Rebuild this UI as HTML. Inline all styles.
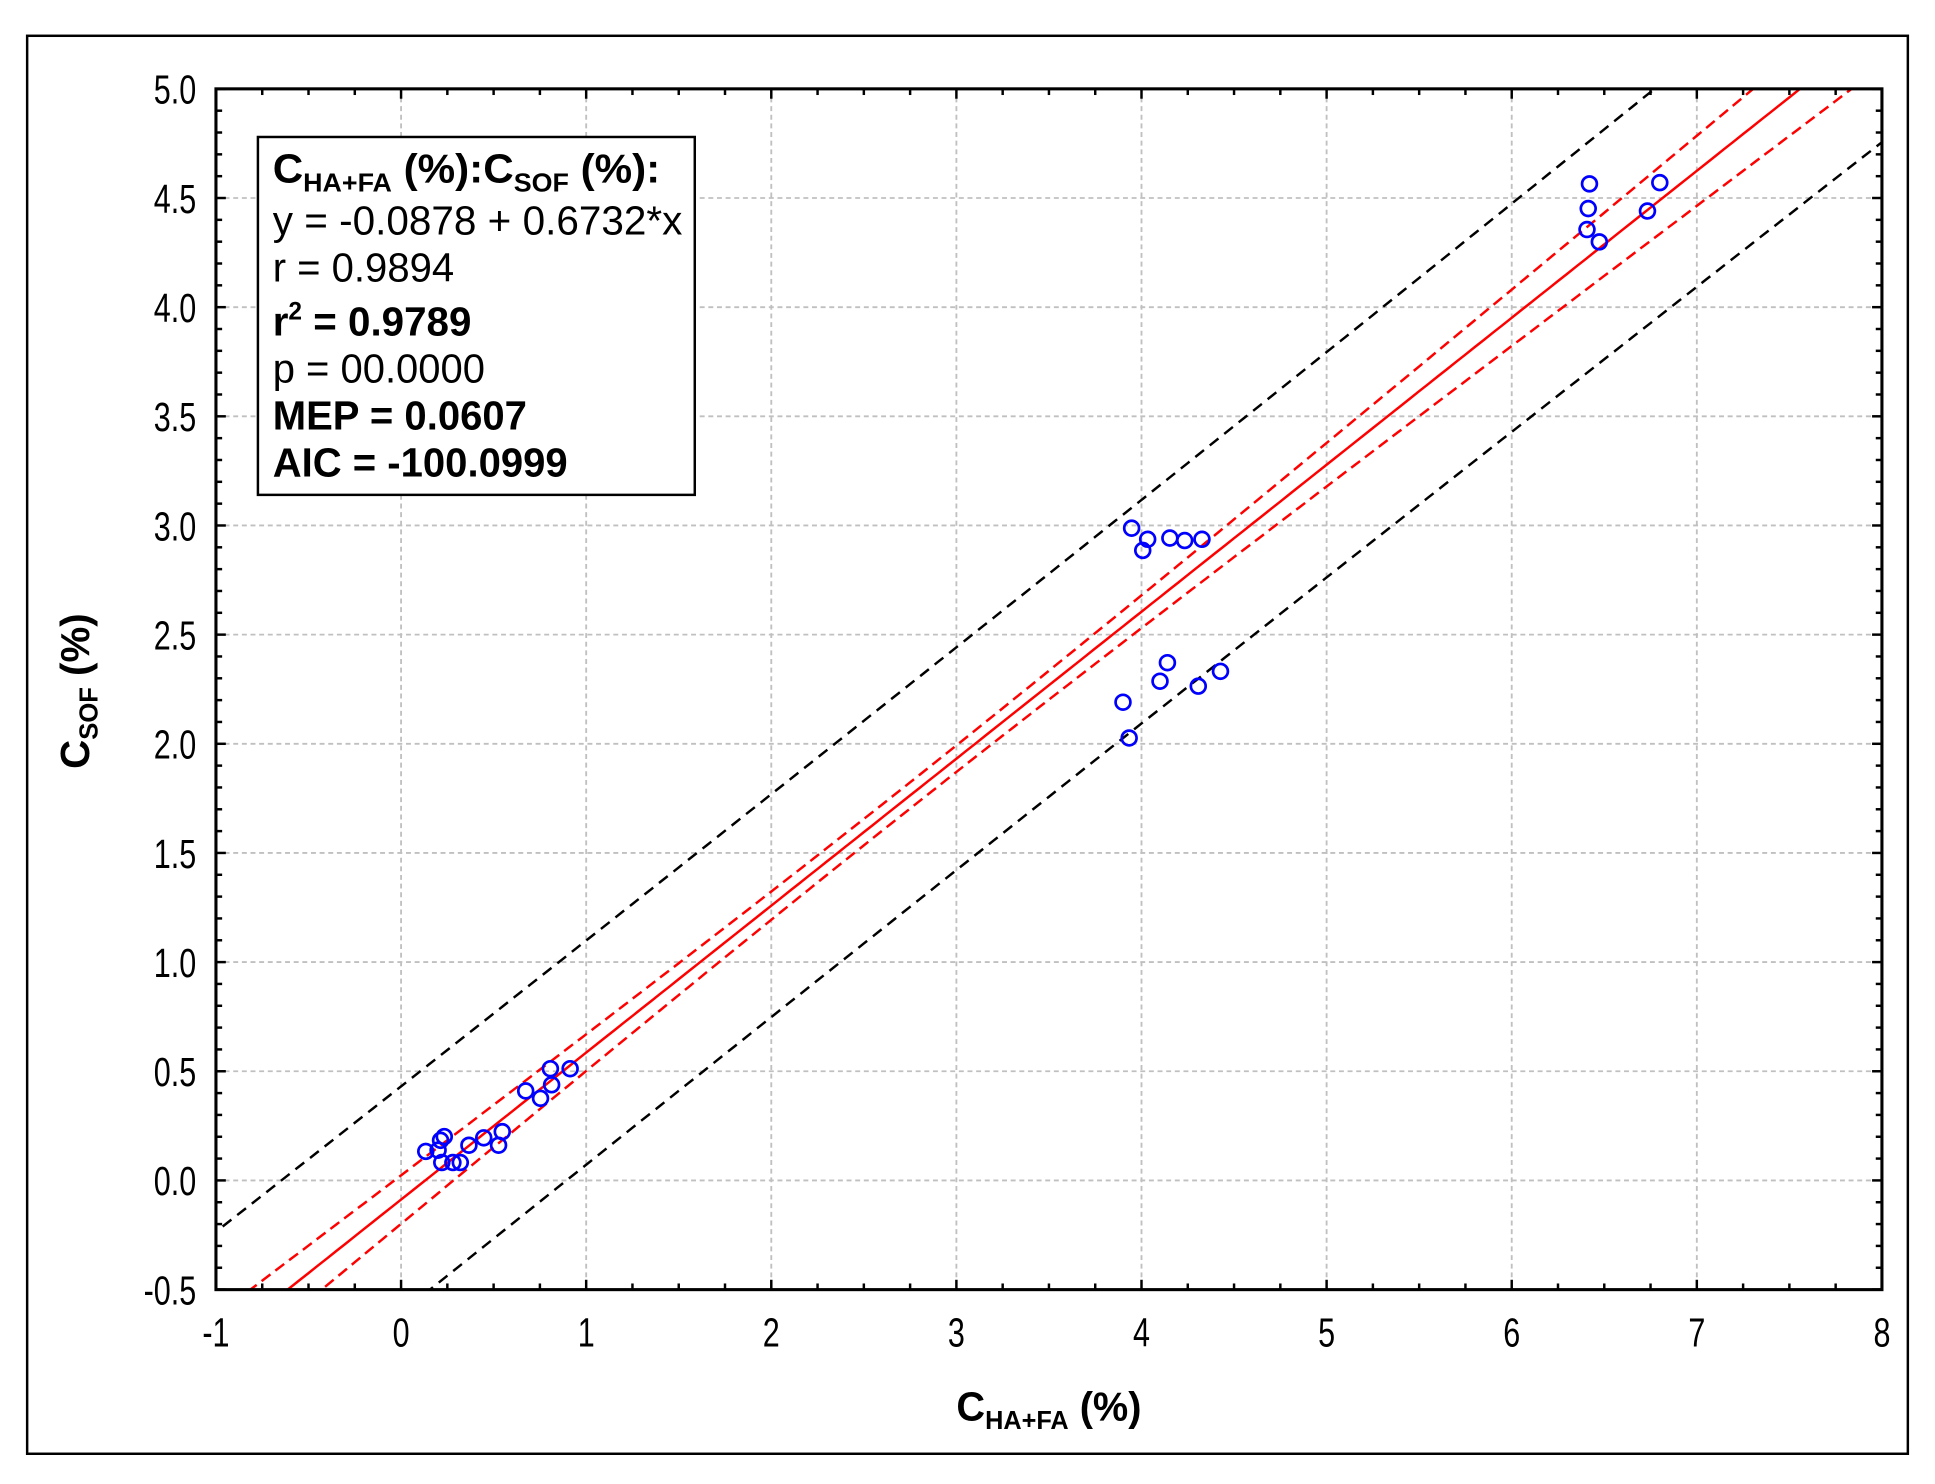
<!DOCTYPE html>
<html><head><meta charset="utf-8"><style>
html,body{margin:0;padding:0;background:#fff;}
svg{display:block;}
text{font-family:"Liberation Sans",Arial,sans-serif;}
</style></head><body>
<svg id="s" width="1935" height="1484" viewBox="0 0 1568 1202.5" preserveAspectRatio="none" xmlns="http://www.w3.org/2000/svg">
<rect x="0" y="0" width="1568" height="1203" fill="#fff"/>
<rect x="22" y="29" width="1524" height="1149" fill="none" stroke="#000" stroke-width="2"/>
<defs><clipPath id="c"><rect x="175" y="72" width="1350" height="973"/></clipPath></defs>
<g id="grid"></g>
<g id="lines" clip-path="url(#c)"></g>
<g id="pts"></g>
<rect x="175" y="72" width="1350" height="973" fill="none" stroke="#000" stroke-width="2.5"/>
<g id="ticks"></g>
<g id="labels" font-size="33" fill="#000"></g>
<text x="850" y="1151" text-anchor="middle" font-size="33" font-weight="bold" textLength="150" lengthAdjust="spacingAndGlyphs">C<tspan font-size="21" dy="7">HA+FA</tspan><tspan dy="-7"> (%)</tspan></text>
<text transform="translate(72,560) rotate(-90)" text-anchor="middle" font-size="33" font-weight="bold" textLength="126" lengthAdjust="spacingAndGlyphs">C<tspan font-size="21" dy="7">SOF</tspan><tspan dy="-7"> (%)</tspan></text>
<rect x="209" y="111" width="354" height="290" fill="#fff" stroke="#000" stroke-width="2"/>
<g font-size="33">
<text x="221" y="148" font-weight="bold" textLength="314" lengthAdjust="spacingAndGlyphs">C<tspan font-size="21" dy="7">HA+FA</tspan><tspan dy="-7"> (%):C</tspan><tspan font-size="21" dy="7">SOF</tspan><tspan dy="-7"> (%):</tspan></text>
<text x="221" y="190" textLength="332" lengthAdjust="spacingAndGlyphs">y = -0.0878 + 0.6732*x</text>
<text x="221" y="228" textLength="147" lengthAdjust="spacingAndGlyphs">r = 0.9894</text>
<text x="221" y="272" font-weight="bold" textLength="161" lengthAdjust="spacingAndGlyphs">r<tspan font-size="20" dy="-13">2</tspan><tspan dy="13"> = 0.9789</tspan></text>
<text x="221" y="310" textLength="172" lengthAdjust="spacingAndGlyphs">p = 00.0000</text>
<text x="221" y="348" font-weight="bold" textLength="206" lengthAdjust="spacingAndGlyphs">MEP = 0.0607</text>
<text x="221" y="386" font-weight="bold" textLength="239" lengthAdjust="spacingAndGlyphs">AIC = -100.0999</text>
</g>
</svg>
<script>
var NS="http://www.w3.org/2000/svg";
function X(v){return 175+(v+1)*150;}
function Y(v){return 72+(5-v)*176.9;}
function el(p,t,a){var e=document.createElementNS(NS,t);for(var k in a)e.setAttribute(k,a[k]);document.getElementById(p).appendChild(e);return e;}
for(var i=0;i<=8;i++){var x=X(i);el("grid","line",{x1:x,y1:72,x2:x,y2:1045,stroke:"#c0c0c0","stroke-width":1.5,"stroke-dasharray":"4,3"});}
for(var v=0;v<=10;v++){var y=Y(-0.5+v*0.5);el("grid","line",{x1:175,y1:y,x2:1525,y2:y,stroke:"#c0c0c0","stroke-width":1.5,"stroke-dasharray":"4,3"});}
for(var k=0;k<=36;k++){var x=X(-1+k*0.25),L=(k%4==0)?8:5;
 el("ticks","line",{x1:x,y1:1045,x2:x,y2:1045-L,stroke:"#000","stroke-width":2});
 el("ticks","line",{x1:x,y1:72,x2:x,y2:72+L,stroke:"#000","stroke-width":2});}
for(var k=0;k<=55;k++){var y=Y(-0.5+k*0.1),L=(k%5==0)?8:5;
 el("ticks","line",{x1:175,y1:y,x2:175+L,y2:y,stroke:"#000","stroke-width":2});
 el("ticks","line",{x1:1525,y1:y,x2:1525-L,y2:y,stroke:"#000","stroke-width":2});}
for(var i=-1;i<=8;i++){var t=el("labels","text",{transform:"translate("+X(i)+",1091) scale(0.75,1)","text-anchor":"middle"});t.textContent=i;}
for(var v=0;v<=11;v++){var val=-0.5+v*0.5;var t=el("labels","text",{transform:"translate(159,"+(Y(val)+12)+") scale(0.75,1)","text-anchor":"end"});t.textContent=val.toFixed(1);}
function f(x){return -0.0878+0.6732*x;}
function conf(x){return Math.sqrt(0.06*0.06+0.0012*(x-2.7)*(x-2.7));}
function pred(x){return Math.sqrt(0.51*0.51+0.0012*(x-2.7)*(x-2.7));}
function path(g){var d="";for(var x=-1.2;x<=8.2;x+=0.05){d+=(d?"L":"M")+X(x).toFixed(1)+","+Y(g(x)).toFixed(1);}return d;}
el("lines","path",{d:path(f),fill:"none",stroke:"#ff0000","stroke-width":2});
el("lines","path",{d:path(function(x){return f(x)+conf(x)}),fill:"none",stroke:"#ff0000","stroke-width":2,"stroke-dasharray":"9,5"});
el("lines","path",{d:path(function(x){return f(x)-conf(x)}),fill:"none",stroke:"#ff0000","stroke-width":2,"stroke-dasharray":"9,5"});
el("lines","path",{d:path(function(x){return f(x)+pred(x)}),fill:"none",stroke:"#000","stroke-width":2,"stroke-dasharray":"9,6"});
el("lines","path",{d:path(function(x){return f(x)-pred(x)}),fill:"none",stroke:"#000","stroke-width":2,"stroke-dasharray":"9,6"});
var P=[[345,933],[355,932],[357,924],[360,921],[358,942],[367,942],[373,942],[380,928],[392,922],[404,928],[407,917],[426,884],[438,890],[446,866],[447,879],[462,866],
[917,428],[926,446],[930,437],[948,436],[960,438],[974,437],[910,569],[915,598],[940,552],[946,537],[971,556],[989,544],
[1288,149],[1287,169],[1286,186],[1296,196],[1335,171],[1345,148]];
P.forEach(function(p){el("pts","circle",{cx:p[0],cy:p[1],r:6,fill:"none",stroke:"#0000ff","stroke-width":2.2});});
</script>
</body></html>
